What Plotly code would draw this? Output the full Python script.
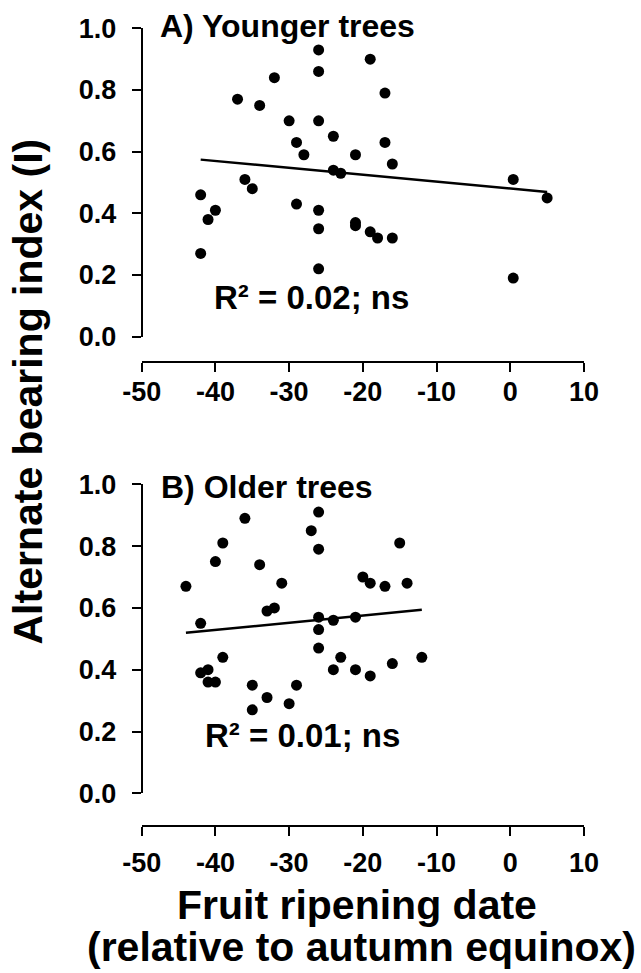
import numpy as np
import plotly.graph_objects as go

# Panel A: younger trees
young_date = [-26, -19, -26, -32, -17, -37, -34, -30, -26, -24, -29, -17,
              -28, -21, -16, -24, -23, 0.4, 5, -36, -35, -42, -40, -41,
              -29, -26, -26, -21, -21, -19, -18, -16, -42, -26, 0.4]
young_index = [0.93, 0.90, 0.86, 0.84, 0.79, 0.77, 0.75, 0.70, 0.70, 0.65, 0.63, 0.63,
               0.59, 0.59, 0.56, 0.54, 0.53, 0.51, 0.45, 0.51, 0.48, 0.46, 0.41, 0.38,
               0.43, 0.41, 0.35, 0.37, 0.36, 0.34, 0.32, 0.32, 0.27, 0.22, 0.19]

# Panel B: older trees
old_date = [-26, -36, -27, -26, -39, -15, -40, -34, -44, -31, -20, -19, -17,
            -14, -33, -32, -42, -26, -24, -21, -26, -26, -39, -23, -12, -16,
            -24, -21, -19, -41, -42, -41, -40, -35, -29, -33, -30, -35]
old_index = [0.91, 0.89, 0.85, 0.79, 0.81, 0.81, 0.75, 0.74, 0.67, 0.68, 0.70, 0.68, 0.67,
             0.68, 0.59, 0.60, 0.55, 0.57, 0.56, 0.57, 0.53, 0.47, 0.44, 0.44, 0.44, 0.42,
             0.40, 0.40, 0.38, 0.40, 0.39, 0.36, 0.36, 0.35, 0.35, 0.31, 0.29, 0.27]

panel_titles = ["A) Younger trees", "B) Older trees"]
r2_labels = ["R² = 0.02; ns", "R² = 0.01; ns"]
x_ticks = [-50, -40, -30, -20, -10, 0, 10]
x_tick_text = ["-50", "-40", "-30", "-20", "-10", "0", "10"]
y_ticks = [0.0, 0.2, 0.4, 0.6, 0.8, 1.0]
y_tick_text = ["0.0", "0.2", "0.4", "0.6", "0.8", "1.0"]

W, H = 641, 973
FONT = "Liberation Sans, Arial, Helvetica, sans-serif"


def px_x(p):
    return p / W


def px_y(p):
    return 1 - p / H


fig = go.Figure()


def add_panel(x, y, xa, ya):
    fig.add_trace(go.Scatter(
        x=x, y=y, mode="markers", xaxis=xa, yaxis=ya,
        marker=dict(size=11, color="black"), showlegend=False,
        cliponaxis=False))
    slope, intercept = np.polyfit(x, y, 1)
    xs = np.array([min(x), max(x)])
    fig.add_trace(go.Scatter(
        x=xs, y=slope * xs + intercept, mode="lines", xaxis=xa, yaxis=ya,
        line=dict(color="black", width=2.5), showlegend=False))


add_panel(young_date, young_index, "x", "y")
add_panel(old_date, old_index, "x2", "y2")

tickfont = dict(family=FONT, size=27, color="black", weight="bold")
common_x = dict(range=[-50, 10], tickvals=x_ticks, ticktext=x_tick_text,
                ticks="outside", ticklen=9, tickwidth=2, tickcolor="black",
                showline=True, linewidth=2, linecolor="black", showgrid=False,
                zeroline=False, tickfont=tickfont, anchor="free",
                automargin=False)
common_y = dict(range=[0, 1], tickvals=y_ticks, ticktext=y_tick_text,
                ticks="outside", ticklen=9, tickwidth=2, tickcolor="black",
                showline=True, linewidth=2, linecolor="black", showgrid=False,
                zeroline=False, tickfont=tickfont, anchor="free",
                position=px_x(141.7), automargin=False, ticklabelstandoff=10)

x_dom = [px_x(141.7), px_x(584)]

fig.update_layout(
    template="none",
    width=W, height=H,
    margin=dict(l=0, r=0, t=0, b=0),
    paper_bgcolor="white", plot_bgcolor="white",
    xaxis=dict(domain=x_dom, position=px_y(362.3), ticklabelstandoff=-4, **common_x),
    yaxis=dict(domain=[px_y(336.7), px_y(28.3)], **common_y),
    xaxis2=dict(domain=x_dom, position=px_y(825.7), ticklabelstandoff=4, **common_x),
    yaxis2=dict(domain=[px_y(793.3), px_y(484.3)], **common_y),
)


def ann_font(s):
    return dict(family=FONT, size=s, color="black", weight="bold")


annotations = [
    dict(text=panel_titles[0], x=px_x(158), y=px_y(26.5), xanchor="left",
         yanchor="middle", font=ann_font(32)),
    dict(text=panel_titles[1], x=px_x(159), y=px_y(487.5), xanchor="left",
         yanchor="middle", font=ann_font(32)),
    dict(text=r2_labels[0], x=px_x(212), y=px_y(297), xanchor="left",
         yanchor="middle", font=ann_font(33)),
    dict(text=r2_labels[1], x=px_x(203), y=px_y(735), xanchor="left",
         yanchor="middle", font=ann_font(33)),
    dict(text="Fruit ripening date", x=px_x(357), y=px_y(904.5),
         xanchor="center", yanchor="middle", font=ann_font(41)),
    dict(text="(relative to autumn equinox)", x=px_x(361), y=px_y(947.3),
         xanchor="center", yanchor="middle", font=ann_font(41)),
    dict(text="Alternate bearing index (I)", x=px_x(27), y=px_y(391.5),
         xanchor="center", yanchor="middle", textangle=-90, font=ann_font(41)),
]
for a in annotations:
    a.update(xref="paper", yref="paper", showarrow=False)
fig.update_layout(annotations=annotations)

fig.write_html("out.html")
